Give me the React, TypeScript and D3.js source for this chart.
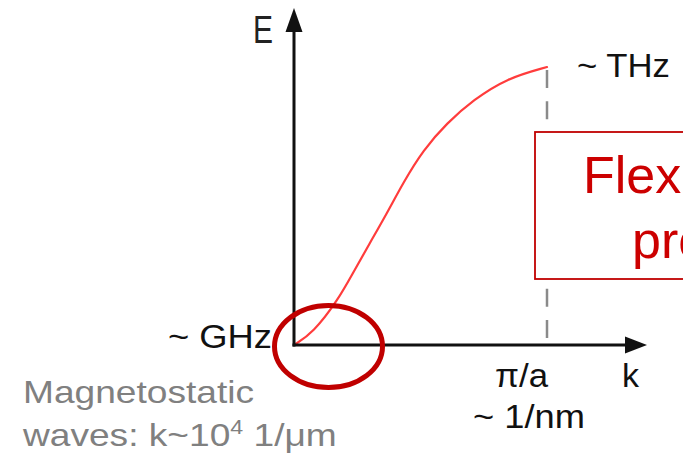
import React from "react";
import * as d3 from "d3";

// Dispersion curve (k normalised to π/a, E normalised to the THz end)
const kValues = [0, 0.075, 0.174, 0.233, 0.3, 0.368, 0.431, 0.51, 0.605, 0.708, 0.842, 1.0];
const eValues = [0, 0.043, 0.162, 0.259, 0.367, 0.475, 0.583, 0.701, 0.799, 0.881, 0.96, 1.0];

const xLabels = ["π/a", "~ 1/nm"];
const yLabels = ["~ THz", "~ GHz"];
const axisNames = ["k", "E"];
const noteLines = ["Magnetostatic", "waves: k~10", "4", " 1/μm"];
const boxLines = ["Flexible band", "properties"];

const W = 683;
const H = 459;
const FONT = "'Liberation Sans', Arial, Helvetica, sans-serif";

export default function App() {
  const x = d3.scaleLinear().domain([0, 1]).range([294, 547]);
  const y = d3.scaleLinear().domain([0, 1]).range([345, 67]);

  const pts: [number, number][] = kValues.map((k, i) => [k, eValues[i]]);
  const line = d3
    .line<[number, number]>()
    .x((d) => x(d[0]))
    .y((d) => y(d[1]))
    .curve(d3.curveBasis);

  const x0 = x(0);
  const y0 = y(0);
  const xEnd = x(1);
  const yEnd = y(1);

  return (
    <div style={{ position: "fixed", left: 0, top: 0, width: W, height: H, overflow: "hidden", background: "#fff" }}>
      <svg width={W} height={H} style={{ display: "block" }} fontFamily={FONT}>
        <rect width={W} height={H} fill="#fff" />
        {/* dashed guide at π/a */}
        <line x1={xEnd} x2={xEnd} y1={yEnd + 3} y2={y0 - 5} stroke="#8a8a8a" strokeWidth={2.5} strokeDasharray="18 13.25" />
        {/* dispersion curve */}
        <path d={line(pts) || ""} fill="none" stroke="#ff3c3c" strokeWidth={2.2} strokeLinecap="round" />
        {/* axes */}
        <line x1={x0} x2={x0} y1={y0 + 1.5} y2={30} stroke="#111" strokeWidth={3} />
        <path d={`M${x0},8 L${x0 - 8.5},32 L${x0 + 8.5},32 Z`} fill="#111" />
        <line x1={x0 - 1.5} x2={627} y1={y0} y2={y0} stroke="#111" strokeWidth={3} />
        <path d={`M647,${y0} L625,${y0 - 8.5} L625,${y0 + 8.5} Z`} fill="#111" />
        {/* red box */}
        <rect x={535} y={132} width={200} height={147} fill="#fff" stroke="#c00000" strokeWidth={1.8} />
        <text x={583} y={193} fontSize={52} fill="#cc0000">{boxLines[0]}</text>
        <text x={632} y={258} fontSize={52} fill="#cc0000">{boxLines[1]}</text>
        {/* red ellipse highlighting low-k region */}
        <ellipse cx={328.5} cy={346.5} rx={54} ry={41} fill="none" stroke="#c00000" strokeWidth={5} />
        {/* labels */}
        <text x={577} y={77} fontSize={34} fill="#111" textLength={93} lengthAdjust="spacingAndGlyphs">{yLabels[0]}</text>
        <text x={168} y={348} fontSize={33} fill="#111" textLength={104} lengthAdjust="spacingAndGlyphs">{yLabels[1]}</text>
        <text x={495} y={387} fontSize={34} fill="#111" textLength={53} lengthAdjust="spacingAndGlyphs">{xLabels[0]}</text>
        <text x={473} y={428} fontSize={34} fill="#111" textLength={112} lengthAdjust="spacingAndGlyphs">{xLabels[1]}</text>
        <text x={622} y={387} fontSize={34} fill="#111">{axisNames[0]}</text>
        <text x={253} y={43} fontSize={38} fill="#222" textLength={20} lengthAdjust="spacingAndGlyphs">{axisNames[1]}</text>
        <g transform="translate(23,0) scale(1.16,1)" fill="#808080" fontSize={32}>
          <text x={0} y={403}>{noteLines[0]}</text>
          <text x={0} y={446}>
            {noteLines[1]}
            <tspan fontSize={20} dy={-12}>{noteLines[2]}</tspan>
            <tspan dy={12}>{noteLines[3]}</tspan>
          </text>
        </g>
      </svg>
    </div>
  );
}
